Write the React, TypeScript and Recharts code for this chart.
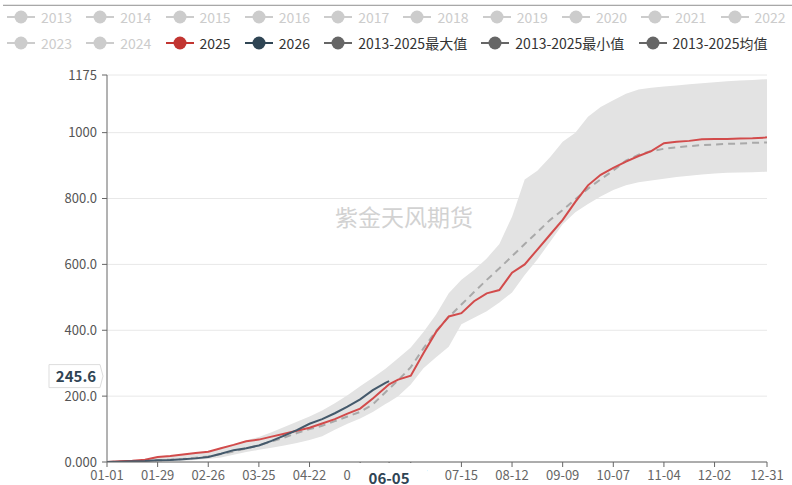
import React from 'react';
import { ComposedChart, Area, Line, XAxis, YAxis, CartesianGrid, ReferenceLine } from 'recharts';

// ---------- data ----------
const dates = [
  "01-01","01-08","01-15","01-22","01-29","02-05","02-12","02-19","02-26","03-04","03-11","03-18","03-25",
  "04-01","04-08","04-15","04-22","04-29","05-06","05-13","05-20","05-27","06-03","06-05","06-10","06-17","06-24",
  "07-01","07-08","07-15","07-22","07-29","08-05","08-12","08-19","08-26","09-02","09-09","09-16","09-23","09-30",
  "10-07","10-14","10-21","10-28","11-04","11-11","11-18","11-25","12-02","12-09","12-16","12-23","12-30","12-31"
];

const series2025 = [
  0, 2, 4, 7, 15, 18, 23, 27, 31, 42, 52, 63, 68,
  77, 86, 95, 104, 117, 130, 147, 162, 193, 226, 236, 250, 262, 330,
  395, 442, 452, 488, 512, 522, 575, 600, 645, 690, 735, 790, 840, 872,
  893, 912, 929, 944, 968, 972, 975, 980, 981, 981, 982, 983, 985, 986
];

const series2026: (number | null)[] = [
  0, 1, 2, 3, 5, 6, 8, 11, 15, 25, 36, 42, 50,
  64, 80, 97, 116, 130, 148, 168, 190, 218, 240, 245.6, null, null, null,
  null, null, null, null, null, null, null, null, null, null, null, null, null, null,
  null, null, null, null, null, null, null, null, null, null, null, null, null, null
];

const seriesMean = [
  0, 1, 2, 3, 5, 7, 9, 13, 17, 24, 32, 41, 51,
  62, 74, 88, 100, 110, 124, 138, 152, 175, 212, 222, 248, 288, 345,
  398, 440, 478, 516, 553, 588, 625, 662, 698, 735, 765, 798, 830, 858,
  885, 915, 933, 944, 951, 955, 959, 962, 964, 966, 967, 969, 970, 970
];

const seriesMax = [
  0, 2, 4, 7, 15, 18, 23, 27, 32, 43, 53, 66, 76,
  90, 106, 122, 138, 156, 178, 203, 230, 256, 283, 292, 315, 348, 395,
  448, 512, 553, 583, 618, 662, 745, 858, 884, 925, 972, 1000, 1048, 1078,
  1098, 1118, 1131, 1136, 1140, 1143, 1147, 1150, 1153, 1156, 1158, 1160, 1162, 1162
];

const seriesMin = [
  0, 0, 1, 1, 2, 3, 4, 6, 9, 14, 22, 30, 37,
  43, 50, 58, 67, 78, 98, 116, 132, 152, 176, 182, 200, 235, 285,
  318, 350, 418, 438, 458, 484, 515, 568, 615, 668, 722, 758, 783, 806,
  826, 840, 849, 855, 860, 865, 869, 873, 876, 878, 879, 880, 881, 881
];

const xTickLabels = ["01-01","01-29","02-26","03-25","04-22","05-20","06-17","07-15","08-12","09-09","10-07","11-04","12-02","12-31"];
const yTicks = [0, 200, 400, 600, 800, 1000, 1175];
const yTickLabels = ["0.000", "200.0", "400.0", "600.0", "800.0", "1000", "1175"];

const inactiveYears = ["2013","2014","2015","2016","2017","2018","2019","2020","2021","2022","2023","2024"];
const activeLegend = [
  { name: "2025", color: "#c23531" },
  { name: "2026", color: "#2f4554" },
  { name: "2013-2025最大值", color: "#666666" },
  { name: "2013-2025最小值", color: "#666666" },
  { name: "2013-2025均值", color: "#666666" },
];

const pointerDate = "06-05";
const pointerValue = 245.6;
const watermark = "紫金天风期货";

// ---------- helpers ----------
const MONTH_DAYS = [31, 29, 31, 30, 31, 30, 31, 31, 30, 31, 30, 31];
function dayIndex(mmdd: string): number {
  const [m, d] = mmdd.split("-").map(Number);
  let n = 0;
  for (let i = 0; i < m - 1; i++) n += MONTH_DAYS[i];
  return n + d - 1;
}

const data = dates.map((d, i) => ({
  day: dayIndex(d),
  range: [seriesMin[i], seriesMax[i]],
  mean: seriesMean[i],
  y2025: series2025[i],
  y2026: series2026[i],
}));

const pointerDay = dayIndex(pointerDate);
// pointer tick last so it is painted on top of the regular labels
const xTicks = [...xTickLabels.map(dayIndex), pointerDay];
const xLabelOf: Record<number, string> = {};
xTickLabels.forEach((l) => { xLabelOf[dayIndex(l)] = l; });
const yLabelOf: Record<number, string> = {};
yTicks.forEach((v, i) => { yLabelOf[v] = yTickLabels[i]; });

const FONT = '"Noto Sans CJK SC", "Noto Sans", sans-serif';

const XTick = (props: any) => {
  const { x, y, payload } = props;
  const v = payload?.value;
  if (v === pointerDay) {
    return (
      <g>
        <rect x={x - 38} y={y - 8} width={76} height={24} fill="#ffffff" />
        <text x={x} y={y + 13} textAnchor="middle" fontWeight="bold" fontSize={15} fill="#2f4454" fontFamily={FONT}>
          {pointerDate}
        </text>
      </g>
    );
  }
  return (
    <text x={x} y={y} dy="0.71em" textAnchor="middle" fontSize={13} fill="#666666" fontFamily={FONT}>
      {xLabelOf[v] ?? ''}
    </text>
  );
};

const YPointerLabel = (props: any) => {
  const vb = props.viewBox || {};
  const left = vb.x;
  const cy = vb.y - 5;
  const pts = [
    [left - 58, cy - 11.5], [left - 7, cy - 11.5], [left - 4, cy], [left - 7, cy + 11.5], [left - 58, cy + 11.5],
  ].map((p) => p.join(",")).join(" ");
  return (
    <g>
      <polygon points={pts} fill="#ffffff" stroke="#dddddd" strokeWidth={1} />
      <text x={left - 31} y={cy + 5.5} textAnchor="middle" fontWeight="bold" fontSize={15} fill="#2f4454" fontFamily={FONT}>
        {pointerValue}
      </text>
    </g>
  );
};

const LegendIcon = ({ color }: { color: string }) => (
  <svg width={28} height={14} style={{ display: 'block' }}>
    <line x1={0} y1={7} x2={28} y2={7} stroke={color} strokeWidth={2} />
    <circle cx={14} cy={7} r={6.5} fill={color} />
  </svg>
);

const LegendItem = ({ name, color, textColor }: { name: string; color: string; textColor: string }) => (
  <div style={{ display: 'flex', alignItems: 'center', gap: 6 }}>
    <LegendIcon color={color} />
    <span style={{ fontSize: 14, color: textColor, lineHeight: '16px', whiteSpace: 'nowrap' }}>{name}</span>
  </div>
);

export default function App() {
  const row1 = inactiveYears.slice(0, 10);
  const row2 = inactiveYears.slice(10);
  return (
    <div style={{ position: 'absolute', left: 0, top: 0, width: 792, height: 485, background: '#fff', fontFamily: FONT, overflow: 'hidden' }}>
      <div style={{ position: 'absolute', left: 3, top: 4, width: 789, height: 1, background: '#e6e6e6' }} />
      <div style={{ position: 'absolute', left: 3, top: 5, width: 789, height: 1, background: '#a8a8a8' }} />
      <div style={{ position: 'absolute', left: 7, top: 9, display: 'flex', gap: 14.2 }}>
        {row1.map((y) => <LegendItem key={y} name={y} color="#cccccc" textColor="#cccccc" />)}
      </div>
      <div style={{ position: 'absolute', left: 7, top: 35, display: 'flex', gap: 14.2 }}>
        {row2.map((y) => <LegendItem key={y} name={y} color="#cccccc" textColor="#cccccc" />)}
        {activeLegend.map((it) => <LegendItem key={it.name} name={it.name} color={it.color} textColor="#333333" />)}
      </div>
      <div style={{ position: 'absolute', left: 404, top: 216, transform: 'translate(-50%, -50%)', fontSize: 23, color: '#d2d2d2', whiteSpace: 'nowrap' }}>
        {watermark}
      </div>
      <div style={{ position: 'absolute', left: 0, top: 0 }}>
        <ComposedChart width={792} height={485} data={data} margin={{ top: 75, right: 25, bottom: 0, left: 0 }} style={{ fontFamily: FONT }}>
          <CartesianGrid horizontal={true} vertical={false} stroke="#e8e8e8" />
          <XAxis
            dataKey="day"
            type="number"
            domain={[0, 365]}
            ticks={xTicks}
            interval={0}
            height={23}
            tickSize={5}
            tickMargin={4}
            axisLine={{ stroke: '#666666' }}
            tickLine={{ stroke: '#666666' }}
            tick={<XTick />}
            allowDataOverflow
          />
          <YAxis
            type="number"
            domain={[0, 1175]}
            ticks={yTicks}
            tickFormatter={(v: number) => yLabelOf[v] ?? ''}
            interval={0}
            width={107}
            tickSize={5}
            tickMargin={5}
            axisLine={{ stroke: '#666666' }}
            tickLine={{ stroke: '#666666' }}
            tick={{ fontSize: 13, fill: '#555555' }}
            allowDataOverflow
          />
          <Area dataKey="range" type="linear" stroke="none" fill="#e3e3e3" fillOpacity={1} isAnimationActive={false} activeDot={false} />
          <Line dataKey="mean" type="linear" stroke="#a9a9a9" strokeWidth={2} strokeDasharray="7 5" dot={false} activeDot={false} isAnimationActive={false} />
          <Line dataKey="y2025" type="linear" stroke="#d24b4b" strokeWidth={2} dot={false} activeDot={false} isAnimationActive={false} />
          <Line dataKey="y2026" type="linear" stroke="#44596b" strokeWidth={2} dot={false} activeDot={false} isAnimationActive={false} connectNulls={false} />
          <ReferenceLine y={pointerValue} stroke="none" label={<YPointerLabel />} />
        </ComposedChart>
      </div>
    </div>
  );
}
